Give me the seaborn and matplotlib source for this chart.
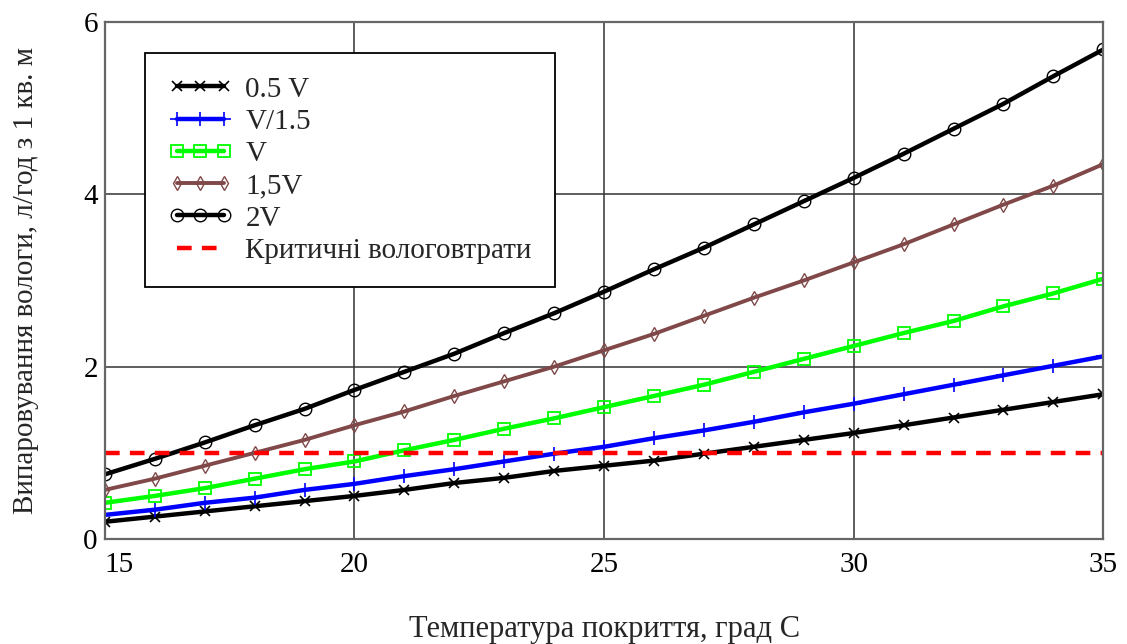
import matplotlib
matplotlib.use('Agg')
import matplotlib.pyplot as plt
import seaborn as sns
import pandas as pd

temp = [15, 16, 17, 18, 19, 20, 21, 22, 23, 24, 25, 26, 27, 28, 29, 30, 31, 32, 33, 34, 35]
v_half = [0.20, 0.26, 0.32, 0.38, 0.44, 0.50, 0.57, 0.65, 0.71, 0.79, 0.85,
          0.91, 0.99, 1.07, 1.15, 1.23, 1.32, 1.41, 1.50, 1.59, 1.68]
v_div15 = [0.28, 0.34, 0.42, 0.48, 0.57, 0.64, 0.73, 0.81, 0.90, 0.99, 1.07,
           1.17, 1.26, 1.36, 1.47, 1.57, 1.68, 1.79, 1.90, 2.01, 2.12]
v_one = [0.42, 0.50, 0.59, 0.70, 0.81, 0.90, 1.03, 1.15, 1.28, 1.40, 1.53,
         1.66, 1.79, 1.94, 2.09, 2.24, 2.39, 2.53, 2.70, 2.85, 3.02]
v_15 = [0.57, 0.70, 0.85, 1.00, 1.15, 1.32, 1.48, 1.66, 1.83, 2.00, 2.19,
        2.38, 2.59, 2.80, 3.00, 3.21, 3.42, 3.65, 3.88, 4.10, 4.35]
v_two = [0.75, 0.93, 1.12, 1.32, 1.51, 1.73, 1.94, 2.15, 2.39, 2.62, 2.87,
         3.13, 3.38, 3.65, 3.92, 4.19, 4.47, 4.76, 5.05, 5.37, 5.68]
crit_x = [15, 35]
crit_y = [1.0, 1.0]

labels = ['0.5 V', 'V/1.5', 'V', '1,5V', '2V', 'Критичні вологовтрати']
x_ticks = [15, 20, 25, 30, 35]
y_ticks = [0, 2, 4, 6]

sns.set_style('white')
plt.rcParams['font.family'] = ['Liberation Serif', 'DejaVu Serif']

fig = plt.figure(figsize=(11.27, 6.44), dpi=100)
ax = fig.add_axes([0.093, 0.163, 0.886, 0.803])

styles = [
    (v_half, 'black', 'x', dict(ms=7, mew=1.2), 3.2),
    (v_div15, '#0000ff', '+', dict(ms=10, mew=1.2), 3.2),
    (v_one, '#00ff00', 's', dict(ms=8, mfc='none', mew=1.3), 3.2),
    (v_15, '#804848', 'd', dict(ms=7, mfc='none', mew=1.0), 2.8),
    (v_two, 'black', 'o', dict(ms=9, mfc='none', mew=1.0), 3.2),
]
for (vals, col, mk, mkw, lw), lab in zip(styles, labels):
    d = pd.DataFrame({'t': temp, 'e': vals})
    sns.lineplot(data=d, x='t', y='e', ax=ax, color=col, lw=lw, marker=mk,
                 mec=col, label=lab, **mkw)

sns.lineplot(x=crit_x, y=crit_y, ax=ax, color='#ff0000', lw=3.2,
             linestyle=(0, (3.3, 2.3)), label=labels[5])

ax.set_xlim(15, 35)
ax.set_ylim(0, 6)
ax.set_xticks(x_ticks)
ax.set_yticks(y_ticks)
ax.tick_params(labelsize=21, length=0, colors='black')
ax.tick_params(axis='x', pad=9)
ax.tick_params(axis='y', pad=5)
ax.get_xticklabels()[0].set_horizontalalignment('left')
ax.grid(True, color='#333333', lw=1.1)
ax.set_axisbelow(True)
for s in ax.spines.values():
    s.set_color('#666666')
    s.set_linewidth(1.6)

ax.set_xlabel('Температура покриття, град С', fontsize=22, labelpad=27)
ax.set_ylabel('Випаровування вологи, л/год з 1 кв. м', fontsize=21, labelpad=32)

leg = ax.legend(loc='upper left', bbox_to_anchor=(0.04, 0.94), fontsize=21,
                frameon=True, fancybox=False, framealpha=1, edgecolor='black',
                borderpad=0.8, labelspacing=0.2, handlelength=2.2,
                handletextpad=0.45, borderaxespad=0, numpoints=3)
leg.get_frame().set_linewidth(1.3)

fig.savefig('out.png', dpi=100)
